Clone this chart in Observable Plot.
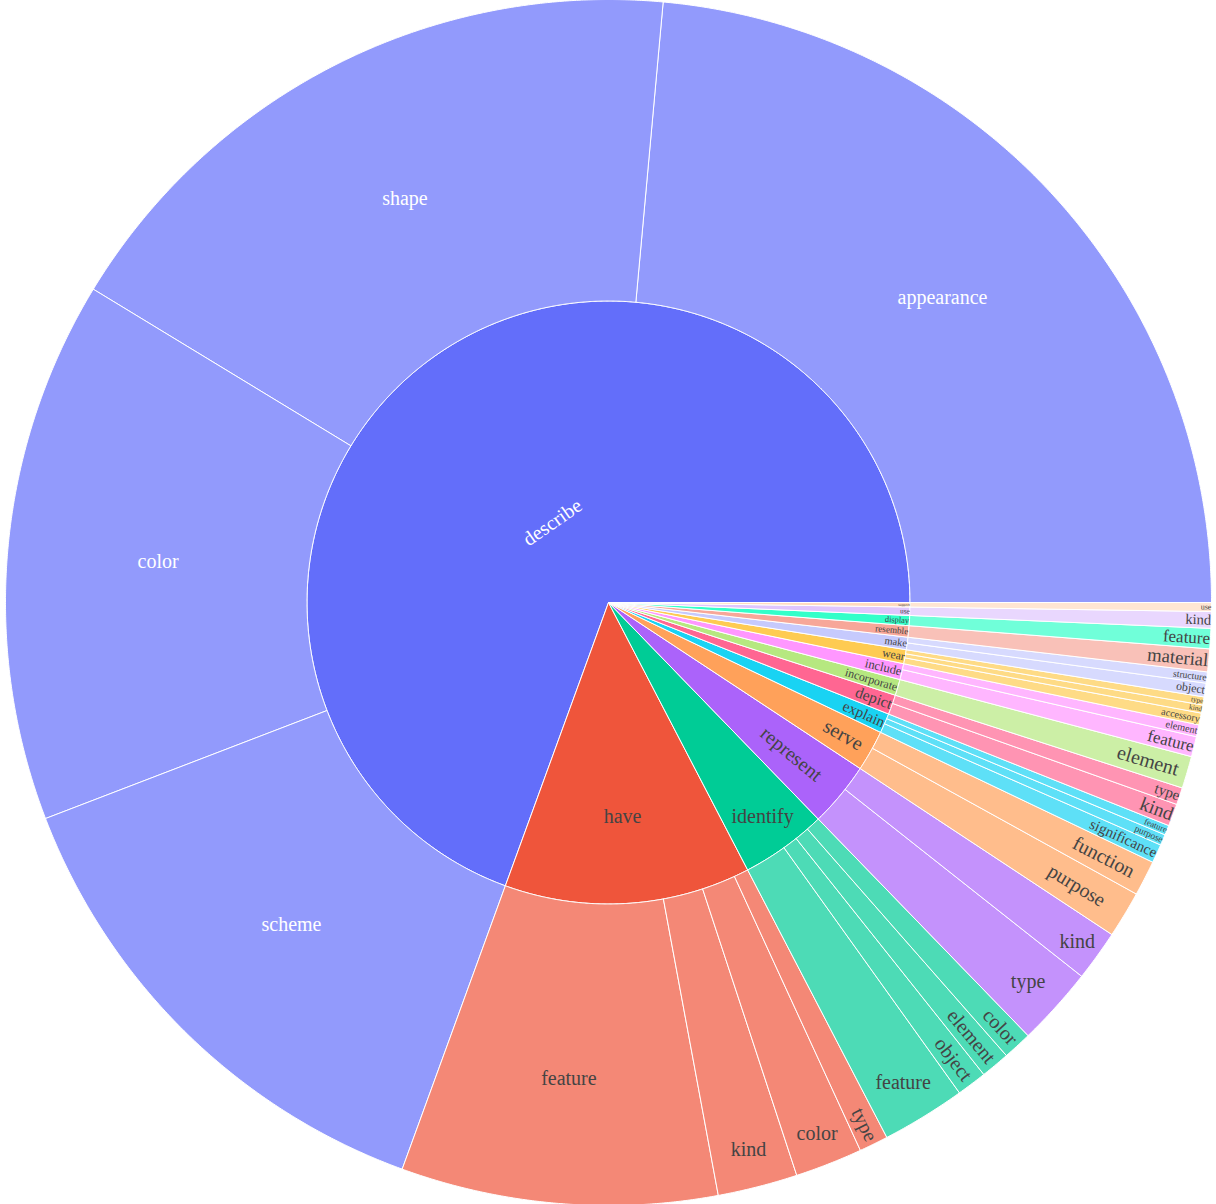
<!DOCTYPE html>
<html><head><meta charset="utf-8">
<script src="https://cdn.jsdelivr.net/npm/d3@7"></script>
<script src="https://cdn.jsdelivr.net/npm/@observablehq/plot@0.6"></script>
<style>body{margin:0;background:#fff} #chart svg text{font-family:"Liberation Serif","Times New Roman",serif !important}</style>
</head><body><div id="chart"></div>
<script>
// ---- data ----
const verbs = ["describe","have","identify","represent","serve","explain","depict","incorporate","include","wear","make","resemble","display","use","support"];
const leafVerb = ["describe","describe","describe","describe","have","have","have","have","identify","identify","identify","identify","represent","represent","serve","serve","explain","explain","explain","depict","depict","incorporate","include","include","wear","wear","wear","make","make","resemble","display","use","support"];
const leafNoun = ["appearance","shape","color","scheme","feature","kind","color","type","feature","object","element","color","type","kind","purpose","function","significance","purpose","feature","kind","type","element","feature","element","accessory","kind","type","object","structure","material","feature","kind","use"];
const leafValue = [84.8,63.9,52.3,49.0,30.5,7.7,6.5,2.8,8.1,2.9,2.8,2.8,7.6,4.9,4.5,3.4,1.8,1.05,0.95,2.15,1.65,3.1,1.95,1.15,1.14,0.78,0.78,1.32,1.08,2.2,1.95,1.6,0.86];
const colorway = ["#636efa","#EF553B","#00cc96","#ab63fa","#FFA15A","#19d3f3","#FF6692","#B6E880","#FF97FF","#FECB52"];

// ---- layout ----
const W = 1216, H = 1204, CX = 608, CY = 602, R = 603, RMID = R / 2;
const BASE = 20, FONT = "Liberation Serif";
const lighten = (c, k) => { const h = d3.hsl(c); h.l = Math.max(0, Math.min(1, h.l + k)); return h.formatHex(); };
const extColors = [...colorway, ...colorway.map(c => lighten(c, 0.2)), ...colorway.map(c => lighten(c, -0.2))];
const isDark = c => { const r = d3.rgb(c); return (r.r * 299 + r.g * 587 + r.b * 114) / 1000 < 128; };

const total = d3.sum(leafValue);
const nodes = [];
let acc = 0;
verbs.forEach((v, i) => {
  const idx = leafVerb.map((d, j) => d === v ? j : -1).filter(j => j >= 0);
  const vt = d3.sum(idx, j => leafValue[j]);
  const a0 = acc / total * 2 * Math.PI, a1 = (acc + vt) / total * 2 * Math.PI;
  const col = extColors[i % extColors.length];
  nodes.push({label: v, a0, a1, r0: 0, r1: RMID, fill: col, base: col});
  let acc2 = acc;
  idx.forEach(j => {
    const b0 = acc2 / total * 2 * Math.PI, b1 = (acc2 + leafValue[j]) / total * 2 * Math.PI;
    nodes.push({label: leafNoun[j], a0: b0, a1: b1, r0: RMID, r1: R, fill: d3.interpolateRgb("#ffffff", col)(0.7), base: col});
    acc2 += leafValue[j];
  });
  acc += vt;
});

// polygons
const polys = [];
nodes.forEach((n, k) => {
  const steps = Math.max(2, Math.ceil((n.a1 - n.a0) / 0.004));
  const pts = [];
  for (let s = 0; s <= steps; s++) { const a = n.a0 + (n.a1 - n.a0) * s / steps; pts.push([n.r1 * Math.cos(a), n.r1 * Math.sin(a)]); }
  if (n.r0 === 0) pts.push([0, 0]);
  else for (let s = steps; s >= 0; s--) { const a = n.a0 + (n.a1 - n.a0) * s / steps; pts.push([n.r0 * Math.cos(a), n.r0 * Math.sin(a)]); }
  pts.push(pts[0]);
  pts.forEach(p => polys.push({id: k, x: p[0], y: p[1], fill: n.fill}));
});

// text placement (plotly-like inside text)
const ctx = document.createElement("canvas").getContext("2d");
ctx.font = `${BASE}px "${FONT}", serif`;
const deg = a => a * 180 / Math.PI;
const norm = x => ((((x + 90) % 180) + 180) % 180) - 90;
const maxHalf = (a, half, r, ring) => { const q = a + 1 / (2 * Math.tan(half)); return r * Math.min(1 / (Math.sqrt(q * q + 0.5) + q), ring / (Math.sqrt(a * a + ring / 2) + a)); };
const labels = nodes.map(n => {
  const w = ctx.measureText(n.label).width, h = BASE * 1.1;
  const ring = 1 - n.r0 / n.r1;
  const d = n.a1 - n.a0;
  const delta = (((d + Math.PI) % (2 * Math.PI)) + 2 * Math.PI) % (2 * Math.PI) - Math.PI;
  const half = 0.5 * Math.min(delta || Math.PI, Math.PI);
  const mid = (n.a0 + n.a1) / 2;
  const rIns = Math.min(1 / (1 + 1 / Math.sin(half)), ring / 2);
  let best = {scale: rIns * n.r1 * 2 / Math.hypot(w, h), rCenter: 1 - rIns, rotate: 0};
  if (best.scale < 1) {
    const rr = Math.max(0, n.r1 - 6);
    const cands = [best];
    let a = w / h, s = maxHalf(a, half, rr, ring);
    cands.push({scale: 2 * s / h, rCenter: Math.cos(s / rr) - a * s / rr, rotate: norm(-deg(mid))});
    a = h / w; s = maxHalf(a, half, rr, ring);
    cands.push({scale: 2 * s / w, rCenter: Math.cos(s / rr) - a * s / rr, rotate: norm(90 - deg(mid))});
    let m = 0; best = cands[0];
    cands.forEach(c => { if (c.scale > m) { m = c.scale; best = c; } });
  }
  const rc = best.rCenter * n.r1;
  return {x: rc * Math.cos(mid), y: rc * Math.sin(mid), text: n.label, rotate: best.rotate,
          size: BASE * Math.min(1, best.scale), color: isDark(n.base) ? "#ffffff" : "#444444"};
});

const chart = Plot.plot({
  width: W, height: H, margin: 0,
  x: {domain: [-CX, W - CX], axis: null},
  y: {domain: [-(H - CY), CY], axis: null},
  color: {type: "identity"},
  marks: [
    Plot.line(polys, {x: "x", y: "y", z: "id", fill: "fill", stroke: "#ffffff", strokeWidth: 1, strokeLinejoin: "round"}),
    Plot.text(labels, {x: "x", y: "y", text: "text", rotate: "rotate", fontSize: "size", fill: "color", fontFamily: FONT, textAnchor: "middle", lineAnchor: "middle"})
  ]
});
document.getElementById("chart").appendChild(chart);
</script>
</body></html>
